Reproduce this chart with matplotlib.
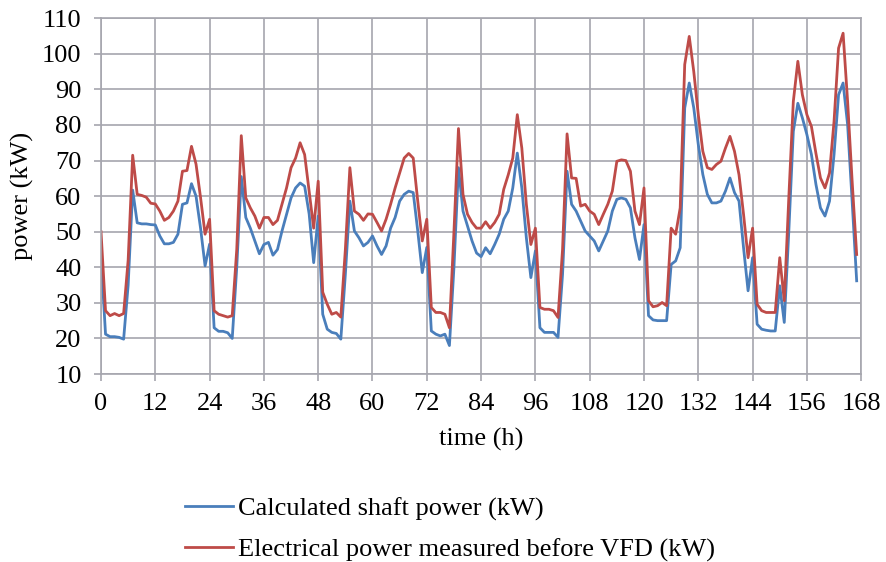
import numpy as np
import matplotlib.pyplot as plt

# hourly readings, hours 0..167
hours = np.arange(168)

shaft_kw = [
    43, 21.2, 20.5, 20.5, 20.3, 19.8, 35, 61.7, 52.5, 52.2, 52.2, 52, 51.9, 48.8, 46.6, 46.6,
    47, 49.3, 57.7, 58.1, 63.5, 60, 51, 40.4,
    46.5, 23, 22, 22, 21.6, 20, 40, 65.5, 54, 51, 47.4, 43.8, 46.4, 47, 43.4, 45,
    50.2, 54.9, 59.5, 62.3, 63.7, 62.8, 55, 41.3,
    54.4, 26.8, 22.6, 21.7, 21.4, 19.8, 38, 58.6, 50.2, 48.3, 46, 47, 48.8, 46, 43.6, 46,
    51, 54, 58.6, 60.5, 61.4, 61, 50.2, 38.5,
    45.6, 22.1, 21.2, 20.7, 21.2, 18, 40, 68, 55.8, 51.6, 47.4, 44, 43, 45.5, 43.8, 46.4,
    49.3, 53.5, 55.8, 62.3, 72.1, 62.3, 48.3, 37.1,
    44.6, 23, 21.7, 21.7, 21.7, 20.3, 38, 67, 57.7, 55.8, 53, 50.2, 48.8, 47.4, 44.6, 47.4,
    50.2, 55.8, 59.1, 59.5, 59.1, 56.7, 48.3, 42.2,
    52, 26.4, 25.2, 25, 25, 25, 40.8, 41.8, 45.5, 84.8, 91.8, 84.8, 74.5, 66.1, 60.5, 58.1,
    58.1, 58.6, 61.4, 65.1, 61, 58.6, 45.5, 33.4,
    42.7, 24, 22.6, 22.3, 22.1, 22.1, 34.8, 24.5, 50, 78.2, 86.1, 82, 77.3, 71.7, 63.3, 56.7,
    54.4, 58.6, 71.7, 88.5, 91.8, 80.1, 58.6, 36.2,
]

electrical_kw = [
    50, 27.8, 26.4, 27, 26.4, 27, 42, 71.5, 60.5, 60.2, 59.7, 58, 57.8, 55.8, 53.2, 54,
    55.8, 58.6, 67, 67.2, 74, 69, 59.6, 49.3,
    53.5, 27.8, 26.8, 26.4, 26, 26.4, 45, 77, 59.5, 56.7, 54.4, 51, 54, 54, 52, 53.2,
    57.7, 62.3, 68, 70.7, 75, 71.7, 61.4, 51,
    64.2, 33, 29.6, 26.8, 27.3, 26, 45, 68, 55.8, 54.9, 53.2, 55, 54.9, 52.6, 50.2, 53.5,
    57.7, 62.3, 66.5, 70.7, 72, 70.7, 58.6, 47.4,
    53.5, 28.7, 27.3, 27.3, 26.8, 23, 50, 79, 60.5, 54.9, 52.6, 51, 51, 52.8, 51, 52.6,
    54.9, 61.9, 66, 70.7, 82.9, 73.5, 57.7, 46.4,
    51, 28.7, 28.2, 28.2, 27.8, 25.9, 45, 77.5, 65.1, 65, 57.2, 57.7, 55.8, 54.9, 52, 54.9,
    57.7, 61.4, 69.8, 70.2, 70, 67, 55.8, 52,
    62.3, 30.6, 28.9, 29.2, 30.1, 29.2, 51, 49.3, 56.7, 97, 104.9, 95, 82.9, 72.6, 68, 67.5,
    68.9, 69.8, 73.5, 76.8, 72.6, 66, 54.9, 42.7,
    51, 29.6, 27.8, 27.3, 27.3, 27.3, 42.7, 30.6, 59.5, 86.6, 97.9, 88.5, 82.9, 79.6, 72, 65.1,
    62.3, 66.5, 81, 101.6, 105.8, 86.6, 64.2, 43.6,
]

x_ticks = np.arange(0, 169, 12)
y_ticks = np.arange(10, 111, 10)

plt.rcParams["font.family"] = ["Liberation Serif", "DejaVu Serif"]
FS = 19

fig = plt.figure(figsize=(8.86, 5.62), dpi=100)
ax = fig.add_axes([0.114, 0.3345, 0.858, 0.633])

ax.plot(hours, shaft_kw, color="#4A7EBB", lw=2.0, solid_joinstyle="round",
        label="Calculated shaft power (kW)")
ax.plot(hours, electrical_kw, color="#BE4B48", lw=2.0, solid_joinstyle="round",
        label="Electrical power measured before VFD (kW)")

ax.set_xlim(0, 168)
ax.set_ylim(10, 110)
ax.set_xticks(x_ticks)
ax.set_yticks(y_ticks)

grid_col = "#A6A6AE"
ax.grid(True, color=grid_col, lw=1.2)
ax.set_axisbelow(True)
for s in ax.spines.values():
    s.set_color(grid_col)
    s.set_linewidth(1.2)
ax.tick_params(direction="out", length=5, width=1.2, color=grid_col,
               labelsize=FS)
ax.tick_params(axis="x", pad=8.5)
ax.tick_params(axis="y", pad=9)

ax.set_xlabel("time (h)", fontsize=FS, labelpad=9.5)
ax.set_ylabel("power (kW)", fontsize=FS, labelpad=6)

fig.legend(loc="upper left", bbox_to_anchor=(0.209, 0.1155), ncol=1,
           frameon=False, fontsize=FS, handlelength=1.8, handletextpad=0.2,
           labelspacing=0.65, borderaxespad=0, borderpad=0)

fig.savefig("out.png", dpi=100)
